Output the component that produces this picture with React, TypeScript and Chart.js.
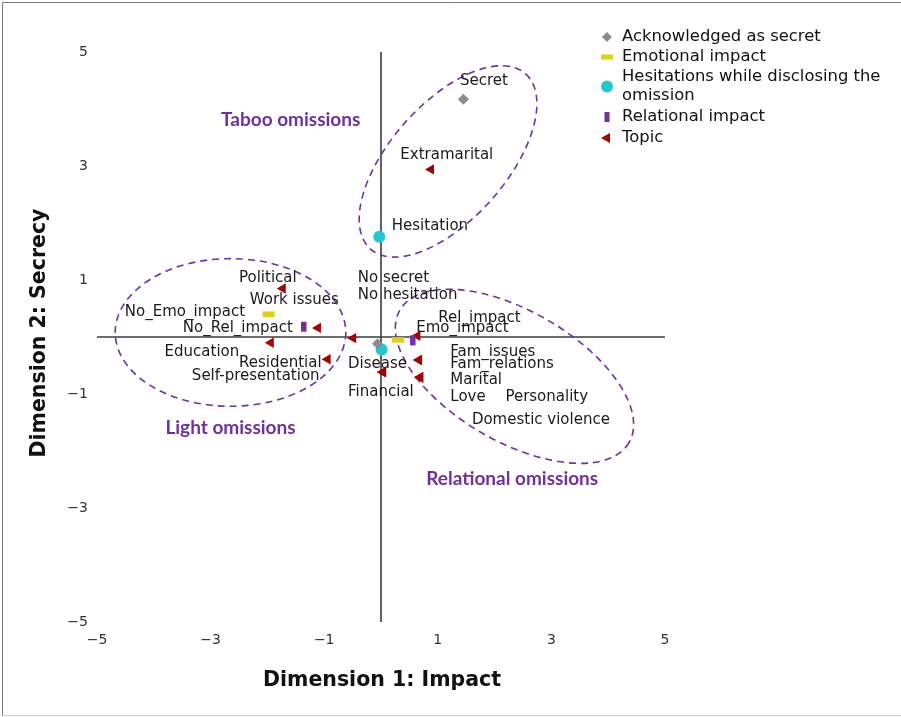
import React, { useEffect, useRef } from "react";
import { Chart, registerables } from "chart.js";

Chart.register(...registerables);

// ---------- DATA ----------
const seriesNames = [
  "Acknowledged as secret",
  "Emotional impact",
  "Hesitations while disclosing the omission",
  "Relational impact",
  "Topic",
];

const secretX = [1.45, -0.06];
const secretY = [4.17, -0.12];
const secretNames = ["Secret", "No secret"];
const secretLabelX = [1.39, -0.41];
const secretLabelY = [4.49, 1.03];

const emoX = [-1.98, 0.3];
const emoY = [0.4, -0.05];
const emoNames = ["No_Emo_impact", "Emo_impact"];
const emoLabelX = [-4.51, 0.62];
const emoLabelY = [0.43, 0.15];

const hesX = [-0.03, 0.01];
const hesY = [1.76, -0.22];
const hesNames = ["Hesitation", "No hesitation"];
const hesLabelX = [0.19, -0.41];
const hesLabelY = [1.94, 0.73];

const relX = [-1.36, 0.56];
const relY = [0.18, -0.06];
const relNames = ["No_Rel_impact", "Rel_impact"];
const relLabelX = [-3.49, 1.01];
const relLabelY = [0.15, 0.34];

const topicNames = [
  "Political", "Work issues", "Education", "Residential", "Self-presentation",
  "Disease", "Financial", "Fam_issues", "Fam_relations", "Marital",
  "Love", "Personality", "Domestic violence", "Extramarital",
];
const topicX = [-1.73, -1.11, -1.94, -0.94, -0.49, 0.04, 0.03, 0.67, 0.67, 0.69, 0.69, 0.64, 0.69, 0.88];
const topicY = [0.85, 0.16, -0.1, -0.39, -0.02, -0.61, -0.62, -0.4, -0.41, -0.7, -0.71, 0.02, -0.71, 2.94];
const topicLabelX = [-2.5, -2.31, -3.81, -2.5, -3.33, -0.58, -0.58, 1.22, 1.22, 1.22, 1.22, 2.19, 1.6, 0.34];
const topicLabelY = [1.03, 0.64, -0.27, -0.45, -0.68, -0.48, -0.96, -0.27, -0.47, -0.75, -1.06, -1.06, -1.45, 3.19];

const groupNames = ["Taboo omissions", "Light omissions", "Relational omissions"];
const groupLabelX = [-1.59, -2.65, 2.31];
const groupLabelY = [3.81, -1.59, -2.49];
// ellipses (data units): centre, semi-axes, rotation (deg, counter-clockwise)
const ellipseCX = [1.18, -2.65, 2.35];
const ellipseCY = [3.08, 0.08, -0.69];
const ellipseA = [2.06, 2.03, 2.33];
const ellipseB = [1.02, 1.3, 1.15];
const ellipseAngle = [48.5, 0, -30];

const xTicks = [-5, -3, -1, 1, 3, 5];
const yTicks = [-5, -3, -1, 1, 3, 5];

// ---------- STYLE ----------
const PURPLE = "#7030a0";
const GRAY = "#8c8c8c";
const YELLOW = "#e3cf12";
const CYAN = "#1fc8d2";
const RED = "#a80000";
const LABEL_FONT = "15px 'DejaVu Sans'";

const toPts = (xs: number[], ys: number[]) => xs.map((v, i) => ({ x: v, y: ys[i] }));

const pointLabels = [
  { names: secretNames, lx: secretLabelX, ly: secretLabelY },
  { names: emoNames, lx: emoLabelX, ly: emoLabelY },
  { names: hesNames, lx: hesLabelX, ly: hesLabelY },
  { names: relNames, lx: relLabelX, ly: relLabelY },
  { names: topicNames, lx: topicLabelX, ly: topicLabelY },
];

function drawMarker(ctx: CanvasRenderingContext2D, kind: number, x: number, y: number) {
  ctx.save();
  if (kind === 0) {
    ctx.fillStyle = GRAY;
    ctx.beginPath();
    ctx.moveTo(x, y - 5);
    ctx.lineTo(x + 5, y);
    ctx.lineTo(x, y + 5);
    ctx.lineTo(x - 5, y);
    ctx.closePath();
    ctx.fill();
  } else if (kind === 1) {
    ctx.fillStyle = YELLOW;
    ctx.fillRect(x - 6, y - 2.5, 12, 5);
  } else if (kind === 2) {
    ctx.fillStyle = CYAN;
    ctx.beginPath();
    ctx.arc(x, y, 6, 0, Math.PI * 2);
    ctx.fill();
  } else if (kind === 3) {
    ctx.fillStyle = PURPLE;
    ctx.fillRect(x - 2.5, y - 5, 5, 10);
  } else {
    ctx.fillStyle = RED;
    ctx.beginPath();
    ctx.moveTo(x - 6, y);
    ctx.lineTo(x + 3, y - 5);
    ctx.lineTo(x + 3, y + 5);
    ctx.closePath();
    ctx.fill();
  }
  ctx.restore();
}

const overlayPlugin = {
  id: "overlay",
  beforeDatasetsDraw(chart: any) {
    const { ctx, scales } = chart;
    const x = scales.x;
    const y = scales.y;
    ctx.save();
    ctx.strokeStyle = "#3c3c3c";
    ctx.lineWidth = 1.6;
    ctx.beginPath();
    ctx.moveTo(x.getPixelForValue(0), y.getPixelForValue(5));
    ctx.lineTo(x.getPixelForValue(0), y.getPixelForValue(-5));
    ctx.moveTo(x.getPixelForValue(-5), y.getPixelForValue(0));
    ctx.lineTo(x.getPixelForValue(5), y.getPixelForValue(0));
    ctx.stroke();

    const ppu = x.getPixelForValue(1) - x.getPixelForValue(0);
    ctx.strokeStyle = PURPLE;
    ctx.lineWidth = 1.6;
    ctx.setLineDash([7, 5]);
    for (let i = 0; i < ellipseCX.length; i++) {
      ctx.beginPath();
      ctx.ellipse(
        x.getPixelForValue(ellipseCX[i]),
        y.getPixelForValue(ellipseCY[i]),
        ellipseA[i] * ppu,
        ellipseB[i] * ppu,
        (-ellipseAngle[i] * Math.PI) / 180,
        0,
        Math.PI * 2
      );
      ctx.stroke();
    }
    ctx.restore();
  },
  afterDatasetsDraw(chart: any) {
    const { ctx, scales } = chart;
    const x = scales.x;
    const y = scales.y;
    ctx.save();
    // point labels
    ctx.fillStyle = "#1a1a1a";
    ctx.font = LABEL_FONT;
    ctx.textAlign = "left";
    ctx.textBaseline = "middle";
    pointLabels.forEach((s) => {
      s.names.forEach((n, i) => {
        ctx.fillText(n, x.getPixelForValue(s.lx[i]), y.getPixelForValue(s.ly[i]));
      });
    });
    // group labels
    ctx.fillStyle = PURPLE;
    ctx.font = "bold 19px Lato";
    ctx.textAlign = "center";
    groupNames.forEach((n, i) => {
      ctx.fillText(n, x.getPixelForValue(groupLabelX[i]), y.getPixelForValue(groupLabelY[i]));
    });
    // legend
    ctx.fillStyle = "#111";
    ctx.font = "16.4px 'DejaVu Sans'";
    ctx.textAlign = "left";
    const lx = 607;
    const tx = 622;
    const rows = [
      { k: 0, lines: [seriesNames[0]], y: 37 },
      { k: 1, lines: [seriesNames[1]], y: 57 },
      { k: 2, lines: ["Hesitations while disclosing the", "omission"], y: 77 },
      { k: 3, lines: [seriesNames[3]], y: 117 },
      { k: 4, lines: [seriesNames[4]], y: 138 },
    ];
    rows.forEach((r) => {
      const my = r.y + ((r.lines.length - 1) * 19) / 2;
      drawMarker(ctx, r.k, lx, my);
      ctx.fillStyle = "#111";
      r.lines.forEach((t, j) => ctx.fillText(t, tx, r.y + j * 19));
    });
    // axis titles
    ctx.fillStyle = "#111";
    ctx.font = "bold 20.5px 'DejaVu Sans'";
    ctx.textAlign = "center";
    ctx.fillText("Dimension 1: Impact", 382, 681);
    ctx.translate(40, 333);
    ctx.rotate(-Math.PI / 2);
    ctx.fillText("Dimension 2: Secrecy", 0, 0);
    ctx.restore();
    // frame
    ctx.save();
    ctx.strokeStyle = "#7a7a7a";
    ctx.lineWidth = 1;
    ctx.beginPath();
    ctx.moveTo(2.5, 716);
    ctx.lineTo(2.5, 2.5);
    ctx.lineTo(901, 2.5);
    ctx.stroke();
    ctx.strokeStyle = "#d0d0d0";
    ctx.beginPath();
    ctx.moveTo(2.5, 715.5);
    ctx.lineTo(901, 715.5);
    ctx.stroke();
    ctx.restore();
  },
};

export default function App() {
  const ref = useRef<HTMLCanvasElement | null>(null);
  useEffect(() => {
    document.body.style.margin = "0";
    if (!ref.current) return;
    const tickFmt = (v: any) => String(v).replace("-", "\u2212");
    const chart = new Chart(ref.current, {
      type: "scatter",
      data: {
        datasets: [
          {
            label: seriesNames[0],
            data: toPts(secretX, secretY),
            pointStyle: "rectRot",
            pointRadius: 5.5,
            pointBackgroundColor: GRAY,
            pointBorderWidth: 0,
          },
          {
            label: seriesNames[1],
            data: toPts(emoX, emoY),
            pointStyle: "line",
            pointRadius: 6,
            pointBorderColor: YELLOW,
            pointBorderWidth: 5.5,
          },
          {
            label: seriesNames[2],
            data: toPts(hesX, hesY),
            pointStyle: "circle",
            pointRadius: 6,
            pointBackgroundColor: CYAN,
            pointBorderWidth: 0,
          },
          {
            label: seriesNames[3],
            data: toPts(relX, relY),
            pointStyle: "line",
            pointRotation: 90,
            pointRadius: 5,
            pointBorderColor: PURPLE,
            pointBorderWidth: 5.5,
          },
          {
            label: seriesNames[4],
            data: toPts(topicX, topicY),
            pointStyle: "triangle",
            pointRotation: -90,
            pointRadius: 6,
            pointBackgroundColor: RED,
            pointBorderWidth: 0,
          },
        ] as any,
      },
      options: {
        animation: false,
        responsive: false,
        maintainAspectRatio: false,
        layout: { padding: { left: 0, top: 52, right: 236, bottom: 55 } },
        plugins: { legend: { display: false }, tooltip: { enabled: false } },
        scales: {
          x: {
            type: "linear",
            min: -5,
            max: 5,
            grid: { display: false, drawTicks: false },
            border: { display: false },
            afterFit: (s: any) => { s.height = 40; },
            afterBuildTicks: (s: any) => { s.ticks = xTicks.map((v) => ({ value: v })); },
            ticks: {
              padding: 10,
              color: "#333",
              font: { family: "'DejaVu Sans'", size: 14 },
              callback: tickFmt,
              maxRotation: 0,
            },
          },
          y: {
            type: "linear",
            min: -5,
            max: 5,
            grid: { display: false, drawTicks: false },
            border: { display: false },
            afterFit: (s: any) => { s.width = 97; },
            afterBuildTicks: (s: any) => { s.ticks = yTicks.map((v) => ({ value: v })); },
            ticks: {
              padding: 9,
              color: "#333",
              font: { family: "'DejaVu Sans'", size: 14 },
              callback: tickFmt,
            },
          },
        },
      },
      plugins: [overlayPlugin],
    });
    return () => chart.destroy();
  }, []);
  return (
    <div style={{ position: "absolute", left: 0, top: 0, width: 901, height: 717, background: "#fff" }}>
      <canvas ref={ref} width={901} height={717} style={{ display: "block" }} />
    </div>
  );
}
